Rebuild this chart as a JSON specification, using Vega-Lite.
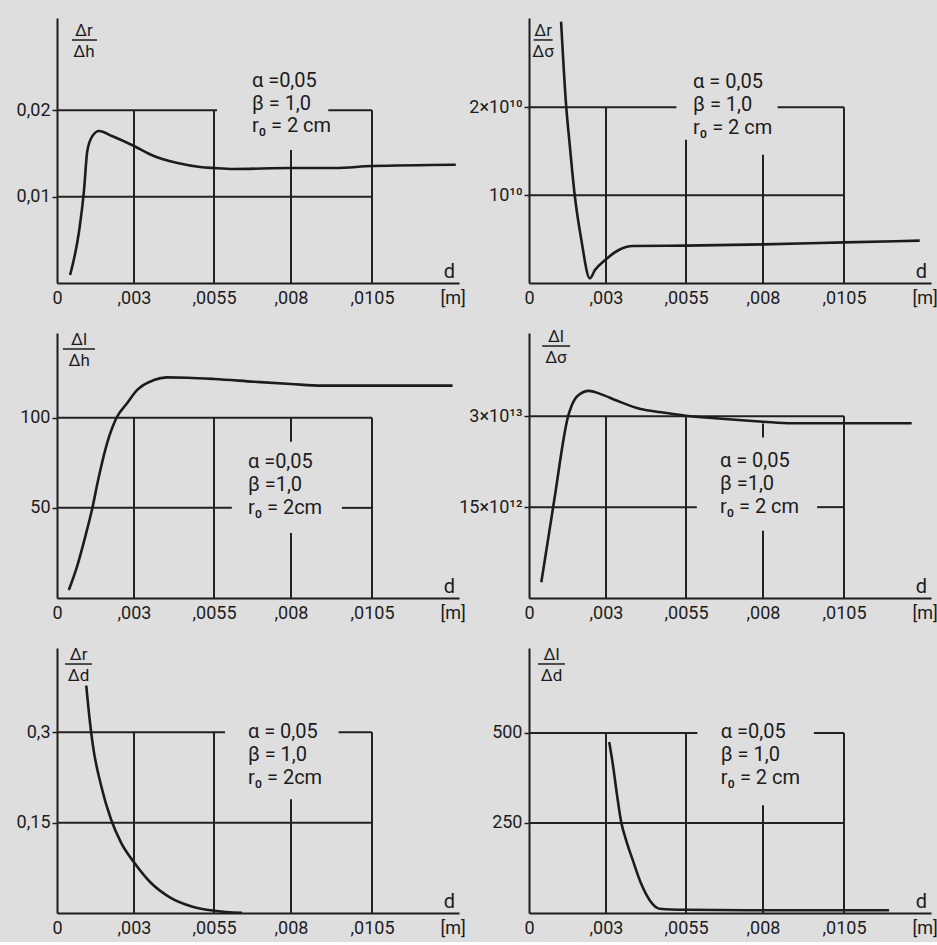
{
"$schema": "https://vega.github.io/schema/vega-lite/v6.json",
"background": "#dedede",
"padding": {"left": 16, "top": 18, "right": 5, "bottom": 5},
"datasets": {
"curves": [
{"p":1,"d":0.00051,"v":0.00093},{"p":1,"d":0.00086,"v":0.006},{"p":1,"d":0.00105,"v":0.01066},{"p":1,"d":0.00118,"v":0.01529},{"p":1,"d":0.00138,"v":0.01703},{"p":1,"d":0.00164,"v":0.01761},{"p":1,"d":0.00214,"v":0.01703},{"p":1,"d":0.003,"v":0.01587},{"p":1,"d":0.00362,"v":0.01471},{"p":1,"d":0.00436,"v":0.0139},{"p":1,"d":0.00507,"v":0.01344},{"p":1,"d":0.0055,"v":0.01332},{"p":1,"d":0.00612,"v":0.01321},{"p":1,"d":0.008,"v":0.01332},{"p":1,"d":0.00936,"v":0.01332},{"p":1,"d":0.0105,"v":0.01355},{"p":1,"d":0.0131,"v":0.0137},
{"p":2,"d":0.00125,"v":2.975e10},{"p":2,"d":0.00145,"v":2.007e10},{"p":2,"d":0.00158,"v":1.594e10},{"p":2,"d":0.00178,"v":1.002e10},{"p":2,"d":0.00204,"v":0.49e10},{"p":2,"d":0.00237,"v":0.053e10},{"p":2,"d":0.00257,"v":0.148e10},{"p":2,"d":0.00297,"v":0.262e10},{"p":2,"d":0.0034,"v":0.376e10},{"p":2,"d":0.00383,"v":0.421e10},{"p":2,"d":0.0055,"v":0.425e10},{"p":2,"d":0.008,"v":0.44e10},{"p":2,"d":0.0105,"v":0.463e10},{"p":2,"d":0.01285,"v":0.482e10},
{"p":3,"d":0.00046,"v":4.4},{"p":3,"d":0.00078,"v":17.4},{"p":3,"d":0.0011,"v":34},{"p":3,"d":0.00136,"v":48.8},{"p":3,"d":0.00163,"v":67.3},{"p":3,"d":0.00195,"v":85.8},{"p":3,"d":0.00231,"v":99.7},{"p":3,"d":0.00273,"v":108},{"p":3,"d":0.0031,"v":115.4},{"p":3,"d":0.00362,"v":120.9},{"p":3,"d":0.00402,"v":122.4},{"p":3,"d":0.00468,"v":122.2},{"p":3,"d":0.0055,"v":121.5},{"p":3,"d":0.0068,"v":120},{"p":3,"d":0.008,"v":118.7},{"p":3,"d":0.00896,"v":117.8},{"p":3,"d":0.0105,"v":117.8},{"p":3,"d":0.013,"v":117.8},
{"p":4,"d":0.00048,"v":0.26e13},{"p":4,"d":0.00097,"v":1.58e13},{"p":4,"d":0.00153,"v":3.01e13},{"p":4,"d":0.00166,"v":3.175e13},{"p":4,"d":0.0019,"v":3.34e13},{"p":4,"d":0.00233,"v":3.42e13},{"p":4,"d":0.00277,"v":3.37e13},{"p":4,"d":0.00333,"v":3.26e13},{"p":4,"d":0.00408,"v":3.12e13},{"p":4,"d":0.00472,"v":3.066e13},{"p":4,"d":0.0055,"v":3.01e13},{"p":4,"d":0.00644,"v":2.967e13},{"p":4,"d":0.008,"v":2.91e13},{"p":4,"d":0.00888,"v":2.884e13},{"p":4,"d":0.0105,"v":2.884e13},{"p":4,"d":0.0126,"v":2.884e13},
{"p":5,"d":0.00114,"v":0.3774},{"p":5,"d":0.00127,"v":0.3221},{"p":5,"d":0.0014,"v":0.2778},{"p":5,"d":0.00172,"v":0.2114},{"p":5,"d":0.0021,"v":0.156},{"p":5,"d":0.00249,"v":0.1174},{"p":5,"d":0.003,"v":0.0842},{"p":5,"d":0.00351,"v":0.051},{"p":5,"d":0.00412,"v":0.026},{"p":5,"d":0.00483,"v":0.0105},{"p":5,"d":0.0055,"v":0.0038},{"p":5,"d":0.00641,"v":0.0003},
{"p":6,"d":0.0031,"v":475},{"p":6,"d":0.00321,"v":415},{"p":6,"d":0.00334,"v":331},{"p":6,"d":0.00347,"v":255},{"p":6,"d":0.00363,"v":202},{"p":6,"d":0.00384,"v":146},{"p":6,"d":0.0041,"v":81},{"p":6,"d":0.00437,"v":35},{"p":6,"d":0.00468,"v":12},{"p":6,"d":0.0055,"v":9},{"p":6,"d":0.008,"v":7.5},{"p":6,"d":0.0105,"v":7.5},{"p":6,"d":0.0119,"v":7.5}
],
"grid": [
{"p":1,"d":0,"d2":0.0056,"v":0.02,"v2":0.02},{"p":1,"d":0.00915,"d2":0.0105,"v":0.02,"v2":0.02},{"p":1,"d":0,"d2":0.0105,"v":0.01,"v2":0.01},{"p":1,"d":0.003,"d2":0.003,"v":0,"v2":0.02},{"p":1,"d":0.0055,"d2":0.0055,"v":0,"v2":0.02},{"p":1,"d":0.008,"d2":0.008,"v":0,"v2":0.0154},{"p":1,"d":0.0105,"d2":0.0105,"v":0,"v2":0.02},
{"p":2,"d":0,"d2":0.0052,"v":2e10,"v2":2e10},{"p":2,"d":0.00845,"d2":0.0105,"v":2e10,"v2":2e10},{"p":2,"d":0,"d2":0.0105,"v":1e10,"v2":1e10},{"p":2,"d":0.003,"d2":0.003,"v":0,"v2":2e10},{"p":2,"d":0.0055,"d2":0.0055,"v":0,"v2":1.63e10},{"p":2,"d":0.008,"d2":0.008,"v":0,"v2":1.46e10},{"p":2,"d":0.0105,"d2":0.0105,"v":0,"v2":2e10},
{"p":3,"d":0,"d2":0.0105,"v":100,"v2":100},{"p":3,"d":0,"d2":0.00608,"v":50,"v2":50},{"p":3,"d":0.00957,"d2":0.0105,"v":50,"v2":50},{"p":3,"d":0.003,"d2":0.003,"v":0,"v2":100},{"p":3,"d":0.0055,"d2":0.0055,"v":0,"v2":100},{"p":3,"d":0.008,"d2":0.008,"v":86.7,"v2":100},{"p":3,"d":0.008,"d2":0.008,"v":0,"v2":36},{"p":3,"d":0.0105,"d2":0.0105,"v":0,"v2":100},
{"p":4,"d":0,"d2":0.0105,"v":3e13,"v2":3e13},{"p":4,"d":0,"d2":0.00585,"v":1.5e13,"v2":1.5e13},{"p":4,"d":0.00967,"d2":0.0105,"v":1.5e13,"v2":1.5e13},{"p":4,"d":0.003,"d2":0.003,"v":0,"v2":3e13},{"p":4,"d":0.0055,"d2":0.0055,"v":0,"v2":3e13},{"p":4,"d":0.008,"d2":0.008,"v":2.65e13,"v2":2.88e13},{"p":4,"d":0.008,"d2":0.008,"v":0,"v2":1.11e13},{"p":4,"d":0.0105,"d2":0.0105,"v":0,"v2":3e13},
{"p":5,"d":0,"d2":0.00586,"v":0.3,"v2":0.3},{"p":5,"d":0.00947,"d2":0.0105,"v":0.3,"v2":0.3},{"p":5,"d":0,"d2":0.0105,"v":0.15,"v2":0.15},{"p":5,"d":0.003,"d2":0.003,"v":0,"v2":0.3},{"p":5,"d":0.0055,"d2":0.0055,"v":0,"v2":0.3},{"p":5,"d":0.008,"d2":0.008,"v":0,"v2":0.189},{"p":5,"d":0.0105,"d2":0.0105,"v":0,"v2":0.3},
{"p":6,"d":0,"d2":0.00587,"v":500,"v2":500},{"p":6,"d":0.00957,"d2":0.0105,"v":500,"v2":500},{"p":6,"d":0,"d2":0.0105,"v":250,"v2":250},{"p":6,"d":0.003,"d2":0.003,"v":0,"v2":500},{"p":6,"d":0.0055,"d2":0.0055,"v":0,"v2":500},{"p":6,"d":0.008,"d2":0.008,"v":0,"v2":299},{"p":6,"d":0.0105,"d2":0.0105,"v":0,"v2":500}
]
},
"columns": 2,
"spacing": {"row": 50, "column": 70},
"bounds": "flush",
"resolve": {"scale": {"x": "independent", "y": "independent"}},
"concat": [
{"width": 402, "height": 265, "layer": [
 {"data": {"name": "grid"}, "transform": [{"filter": "datum.p == 1"}], "mark": {"type": "rule", "strokeWidth": 2, "color": "#222222"},
  "encoding": {"x": {"field": "d", "type": "quantitative", "scale": {"domain": [0,0.003,0.0055,0.008,0.0105,0.0132], "range": [0,77,157,234,315,402], "nice": false, "zero": false},
   "axis": {"values": [0,0.003,0.0055,0.008,0.0105,0.013], "labelExpr": "datum.value == 0 ? '0' : datum.value == 0.003 ? ',003' : datum.value == 0.0055 ? ',0055' : datum.value == 0.008 ? ',008' : datum.value == 0.0105 ? ',0105' : '[m]'", "title": "d"}},
   "x2": {"field": "d2"},
   "y": {"field": "v", "type": "quantitative", "scale": {"domain": [0, 0.0307], "nice": false}, "axis": {"values": [0.01, 0.02], "labelExpr": "datum.value == 0.02 ? '0,02' : '0,01'", "title": null}},
   "y2": {"field": "v2"}}},
 {"data": {"name": "curves"}, "transform": [{"filter": "datum.p == 1"}], "mark": {"type": "line", "interpolate": "monotone", "strokeWidth": 2.6, "color": "#1c1c1c", "clip": true},
  "encoding": {"x": {"field": "d", "type": "quantitative"}, "y": {"field": "v", "type": "quantitative"}}},
 {"data": {"values": [{}]}, "mark": {"type": "text", "text": "Δr", "fontSize": 17, "align": "center", "baseline": "alphabetic", "dy": -4, "color": "#1c1c1c"},
  "encoding": {"x": {"datum": 0.00105, "type": "quantitative"}, "y": {"datum": 0.02815, "type": "quantitative"}}},
 {"data": {"values": [{}]}, "mark": {"type": "text", "text": "Δh", "fontSize": 17, "align": "center", "baseline": "top", "dy": 4, "color": "#1c1c1c"},
  "encoding": {"x": {"datum": 0.00105, "type": "quantitative"}, "y": {"datum": 0.02815, "type": "quantitative"}}},
 {"data": {"values": [{}]}, "mark": {"type": "rule", "strokeWidth": 1.5, "color": "#1c1c1c"},
  "encoding": {"x": {"datum": 0.00058, "type": "quantitative"}, "x2": {"datum": 0.00156}, "y": {"datum": 0.02815, "type": "quantitative"}}},
 {"data": {"values": [{}]}, "mark": {"type": "text", "text": ["α =0,05", "β = 1,0", "r₀ = 2 cm"], "lineHeight": 22.5, "fontSize": 20, "align": "left", "baseline": "middle", "color": "#1c1c1c"},
  "encoding": {"x": {"datum": 0.00673, "type": "quantitative"}, "y": {"datum": 0.0234, "type": "quantitative"}}}
]},
{"width": 402, "height": 265, "layer": [
 {"data": {"name": "grid"}, "transform": [{"filter": "datum.p == 2"}], "mark": {"type": "rule", "strokeWidth": 2, "color": "#222222"},
  "encoding": {"x": {"field": "d", "type": "quantitative", "scale": {"domain": [0,0.003,0.0055,0.008,0.0105,0.0132], "range": [0,77,157,234,315,402], "nice": false, "zero": false},
   "axis": {"values": [0,0.003,0.0055,0.008,0.0105,0.013], "labelExpr": "datum.value == 0 ? '0' : datum.value == 0.003 ? ',003' : datum.value == 0.0055 ? ',0055' : datum.value == 0.008 ? ',008' : datum.value == 0.0105 ? ',0105' : '[m]'", "title": "d"}},
   "x2": {"field": "d2"},
   "y": {"field": "v", "type": "quantitative", "scale": {"domain": [0, 3.017e10], "nice": false}, "axis": {"values": [1e10, 2e10], "labelExpr": "datum.value == 2e10 ? '2×10¹⁰' : '10¹⁰'", "title": null}},
   "y2": {"field": "v2"}}},
 {"data": {"name": "curves"}, "transform": [{"filter": "datum.p == 2"}], "mark": {"type": "line", "interpolate": "monotone", "strokeWidth": 2.6, "color": "#1c1c1c", "clip": true},
  "encoding": {"x": {"field": "d", "type": "quantitative"}, "y": {"field": "v", "type": "quantitative"}}},
 {"data": {"values": [{}]}, "mark": {"type": "text", "text": "Δr", "fontSize": 17, "align": "center", "baseline": "alphabetic", "dy": -4, "color": "#1c1c1c"},
  "encoding": {"x": {"datum": 0.00055, "type": "quantitative"}, "y": {"datum": 2.767e10, "type": "quantitative"}}},
 {"data": {"values": [{}]}, "mark": {"type": "text", "text": "Δσ", "fontSize": 17, "align": "center", "baseline": "top", "dy": 4, "color": "#1c1c1c"},
  "encoding": {"x": {"datum": 0.00055, "type": "quantitative"}, "y": {"datum": 2.767e10, "type": "quantitative"}}},
 {"data": {"values": [{}]}, "mark": {"type": "rule", "strokeWidth": 1.5, "color": "#1c1c1c"},
  "encoding": {"x": {"datum": 0.00018, "type": "quantitative"}, "x2": {"datum": 0.00092}, "y": {"datum": 2.767e10, "type": "quantitative"}}},
 {"data": {"values": [{}]}, "mark": {"type": "text", "text": ["α = 0,05", "β = 1,0", "r₀ = 2 cm"], "lineHeight": 23, "fontSize": 20, "align": "left", "baseline": "middle", "color": "#1c1c1c"},
  "encoding": {"x": {"datum": 0.00573, "type": "quantitative"}, "y": {"datum": 2.288e10, "type": "quantitative"}}}
]},
{"width": 402, "height": 265, "layer": [
 {"data": {"name": "grid"}, "transform": [{"filter": "datum.p == 3"}], "mark": {"type": "rule", "strokeWidth": 2, "color": "#222222"},
  "encoding": {"x": {"field": "d", "type": "quantitative", "scale": {"domain": [0,0.003,0.0055,0.008,0.0105,0.0132], "range": [0,77,157,234,315,402], "nice": false, "zero": false},
   "axis": {"values": [0,0.003,0.0055,0.008,0.0105,0.013], "labelExpr": "datum.value == 0 ? '0' : datum.value == 0.003 ? ',003' : datum.value == 0.0055 ? ',0055' : datum.value == 0.008 ? ',008' : datum.value == 0.0105 ? ',0105' : '[m]'", "title": "d"}},
   "x2": {"field": "d2"},
   "y": {"field": "v", "type": "quantitative", "scale": {"domain": [0, 147], "nice": false}, "axis": {"values": [50, 100], "title": null}},
   "y2": {"field": "v2"}}},
 {"data": {"name": "curves"}, "transform": [{"filter": "datum.p == 3"}], "mark": {"type": "line", "interpolate": "monotone", "strokeWidth": 2.6, "color": "#1c1c1c", "clip": true},
  "encoding": {"x": {"field": "d", "type": "quantitative"}, "y": {"field": "v", "type": "quantitative"}}},
 {"data": {"values": [{}]}, "mark": {"type": "text", "text": "Δl", "fontSize": 17, "align": "center", "baseline": "alphabetic", "dy": -4, "color": "#1c1c1c"},
  "encoding": {"x": {"datum": 0.00086, "type": "quantitative"}, "y": {"datum": 138.1, "type": "quantitative"}}},
 {"data": {"values": [{}]}, "mark": {"type": "text", "text": "Δh", "fontSize": 17, "align": "center", "baseline": "top", "dy": 4, "color": "#1c1c1c"},
  "encoding": {"x": {"datum": 0.00086, "type": "quantitative"}, "y": {"datum": 138.1, "type": "quantitative"}}},
 {"data": {"values": [{}]}, "mark": {"type": "rule", "strokeWidth": 1.5, "color": "#1c1c1c"},
  "encoding": {"x": {"datum": 0.00023, "type": "quantitative"}, "x2": {"datum": 0.00148}, "y": {"datum": 138.1, "type": "quantitative"}}},
 {"data": {"values": [{}]}, "mark": {"type": "text", "text": ["α =0,05", "β =1,0", "r₀ = 2cm"], "lineHeight": 23, "fontSize": 20, "align": "left", "baseline": "middle", "color": "#1c1c1c"},
  "encoding": {"x": {"datum": 0.0066, "type": "quantitative"}, "y": {"datum": 75.4, "type": "quantitative"}}}
]},
{"width": 402, "height": 265, "layer": [
 {"data": {"name": "grid"}, "transform": [{"filter": "datum.p == 4"}], "mark": {"type": "rule", "strokeWidth": 2, "color": "#222222"},
  "encoding": {"x": {"field": "d", "type": "quantitative", "scale": {"domain": [0,0.003,0.0055,0.008,0.0105,0.0132], "range": [0,77,157,234,315,402], "nice": false, "zero": false},
   "axis": {"values": [0,0.003,0.0055,0.008,0.0105,0.013], "labelExpr": "datum.value == 0 ? '0' : datum.value == 0.003 ? ',003' : datum.value == 0.0055 ? ',0055' : datum.value == 0.008 ? ',008' : datum.value == 0.0105 ? ',0105' : '[m]'", "title": "d"}},
   "x2": {"field": "d2"},
   "y": {"field": "v", "type": "quantitative", "scale": {"domain": [0, 4.375e13], "nice": false}, "axis": {"values": [1.5e13, 3e13], "labelExpr": "datum.value == 3e13 ? '3×10¹³' : '15×10¹²'", "title": null}},
   "y2": {"field": "v2"}}},
 {"data": {"name": "curves"}, "transform": [{"filter": "datum.p == 4"}], "mark": {"type": "line", "interpolate": "monotone", "strokeWidth": 2.6, "color": "#1c1c1c", "clip": true},
  "encoding": {"x": {"field": "d", "type": "quantitative"}, "y": {"field": "v", "type": "quantitative"}}},
 {"data": {"values": [{}]}, "mark": {"type": "text", "text": "Δl", "fontSize": 17, "align": "center", "baseline": "alphabetic", "dy": -4, "color": "#1c1c1c"},
  "encoding": {"x": {"datum": 0.00105, "type": "quantitative"}, "y": {"datum": 4.16e13, "type": "quantitative"}}},
 {"data": {"values": [{}]}, "mark": {"type": "text", "text": "Δσ", "fontSize": 17, "align": "center", "baseline": "top", "dy": 4, "color": "#1c1c1c"},
  "encoding": {"x": {"datum": 0.00105, "type": "quantitative"}, "y": {"datum": 4.16e13, "type": "quantitative"}}},
 {"data": {"values": [{}]}, "mark": {"type": "rule", "strokeWidth": 1.5, "color": "#1c1c1c"},
  "encoding": {"x": {"datum": 0.00051, "type": "quantitative"}, "x2": {"datum": 0.0016}, "y": {"datum": 4.16e13, "type": "quantitative"}}},
 {"data": {"values": [{}]}, "mark": {"type": "text", "text": ["α = 0,05", "β  =1,0", "r₀ = 2 cm"], "lineHeight": 23, "fontSize": 20, "align": "left", "baseline": "middle", "color": "#1c1c1c"},
  "encoding": {"x": {"datum": 0.0066, "type": "quantitative"}, "y": {"datum": 2.262e13, "type": "quantitative"}}}
]},
{"width": 402, "height": 265, "layer": [
 {"data": {"name": "grid"}, "transform": [{"filter": "datum.p == 5"}], "mark": {"type": "rule", "strokeWidth": 2, "color": "#222222"},
  "encoding": {"x": {"field": "d", "type": "quantitative", "scale": {"domain": [0,0.003,0.0055,0.008,0.0105,0.0132], "range": [0,77,157,234,315,402], "nice": false, "zero": false},
   "axis": {"values": [0,0.003,0.0055,0.008,0.0105,0.013], "labelExpr": "datum.value == 0 ? '0' : datum.value == 0.003 ? ',003' : datum.value == 0.0055 ? ',0055' : datum.value == 0.008 ? ',008' : datum.value == 0.0105 ? ',0105' : '[m]'", "title": "d"}},
   "x2": {"field": "d2"},
   "y": {"field": "v", "type": "quantitative", "scale": {"domain": [0, 0.44], "nice": false}, "axis": {"values": [0.15, 0.3], "labelExpr": "datum.value == 0.3 ? '0,3' : '0,15'", "title": null}},
   "y2": {"field": "v2"}}},
 {"data": {"name": "curves"}, "transform": [{"filter": "datum.p == 5"}], "mark": {"type": "line", "interpolate": "monotone", "strokeWidth": 2.6, "color": "#1c1c1c", "clip": true},
  "encoding": {"x": {"field": "d", "type": "quantitative"}, "y": {"field": "v", "type": "quantitative"}}},
 {"data": {"values": [{}]}, "mark": {"type": "text", "text": "Δr", "fontSize": 17, "align": "center", "baseline": "alphabetic", "dy": -4, "color": "#1c1c1c"},
  "encoding": {"x": {"datum": 0.00084, "type": "quantitative"}, "y": {"datum": 0.4134, "type": "quantitative"}}},
 {"data": {"values": [{}]}, "mark": {"type": "text", "text": "Δd", "fontSize": 17, "align": "center", "baseline": "top", "dy": 4, "color": "#1c1c1c"},
  "encoding": {"x": {"datum": 0.00084, "type": "quantitative"}, "y": {"datum": 0.4134, "type": "quantitative"}}},
 {"data": {"values": [{}]}, "mark": {"type": "rule", "strokeWidth": 1.5, "color": "#1c1c1c"},
  "encoding": {"x": {"datum": 0.00031, "type": "quantitative"}, "x2": {"datum": 0.00136}, "y": {"datum": 0.4134, "type": "quantitative"}}},
 {"data": {"values": [{}]}, "mark": {"type": "text", "text": ["α = 0,05", "β = 1,0", "r₀ = 2cm"], "lineHeight": 23, "fontSize": 20, "align": "left", "baseline": "middle", "color": "#1c1c1c"},
  "encoding": {"x": {"datum": 0.0066, "type": "quantitative"}, "y": {"datum": 0.3005, "type": "quantitative"}}}
]},
{"width": 402, "height": 265, "layer": [
 {"data": {"name": "grid"}, "transform": [{"filter": "datum.p == 6"}], "mark": {"type": "rule", "strokeWidth": 2, "color": "#222222"},
  "encoding": {"x": {"field": "d", "type": "quantitative", "scale": {"domain": [0,0.003,0.0055,0.008,0.0105,0.0132], "range": [0,77,157,234,315,402], "nice": false, "zero": false},
   "axis": {"values": [0,0.003,0.0055,0.008,0.0105,0.013], "labelExpr": "datum.value == 0 ? '0' : datum.value == 0.003 ? ',003' : datum.value == 0.0055 ? ',0055' : datum.value == 0.008 ? ',008' : datum.value == 0.0105 ? ',0105' : '[m]'", "title": "d"}},
   "x2": {"field": "d2"},
   "y": {"field": "v", "type": "quantitative", "scale": {"domain": [0, 736], "nice": false}, "axis": {"values": [250, 500], "title": null}},
   "y2": {"field": "v2"}}},
 {"data": {"name": "curves"}, "transform": [{"filter": "datum.p == 6"}], "mark": {"type": "line", "interpolate": "monotone", "strokeWidth": 2.6, "color": "#1c1c1c", "clip": true},
  "encoding": {"x": {"field": "d", "type": "quantitative"}, "y": {"field": "v", "type": "quantitative"}}},
 {"data": {"values": [{}]}, "mark": {"type": "text", "text": "Δl", "fontSize": 17, "align": "center", "baseline": "alphabetic", "dy": -4, "color": "#1c1c1c"},
  "encoding": {"x": {"datum": 0.00088, "type": "quantitative"}, "y": {"datum": 691.6, "type": "quantitative"}}},
 {"data": {"values": [{}]}, "mark": {"type": "text", "text": "Δd", "fontSize": 17, "align": "center", "baseline": "top", "dy": 4, "color": "#1c1c1c"},
  "encoding": {"x": {"datum": 0.00088, "type": "quantitative"}, "y": {"datum": 691.6, "type": "quantitative"}}},
 {"data": {"values": [{}]}, "mark": {"type": "rule", "strokeWidth": 1.5, "color": "#1c1c1c"},
  "encoding": {"x": {"datum": 0.00035, "type": "quantitative"}, "x2": {"datum": 0.0014}, "y": {"datum": 691.6, "type": "quantitative"}}},
 {"data": {"values": [{}]}, "mark": {"type": "text", "text": ["α =0,05", "β = 1,0", "r₀ = 2 cm"], "lineHeight": 23, "fontSize": 20, "align": "left", "baseline": "middle", "color": "#1c1c1c"},
  "encoding": {"x": {"datum": 0.00663, "type": "quantitative"}, "y": {"datum": 502.7, "type": "quantitative"}}}
]}
],
"config": {
 "font": "Roboto",
 "view": {"stroke": null},
 "text": {"font": "Roboto"},
 "axis": {"grid": false, "domainColor": "#1c1c1c", "domainWidth": 2, "labelFont": "Roboto", "labelFontSize": 18, "labelColor": "#1c1c1c", "titleFont": "Roboto", "titleFontWeight": "normal", "titleColor": "#1c1c1c", "labelOverlap": false, "labelFlush": false, "labelBound": false},
 "axisX": {"ticks": false, "labelPadding": 6, "titleFontSize": 20, "titleX": 392, "titleY": -6, "titleAlign": "center", "titleBaseline": "alphabetic", "titleAngle": 0},
 "axisY": {"ticks": true, "tickSize": 5, "tickWidth": 1.5, "tickColor": "#1c1c1c", "labelPadding": 2}
}
}
